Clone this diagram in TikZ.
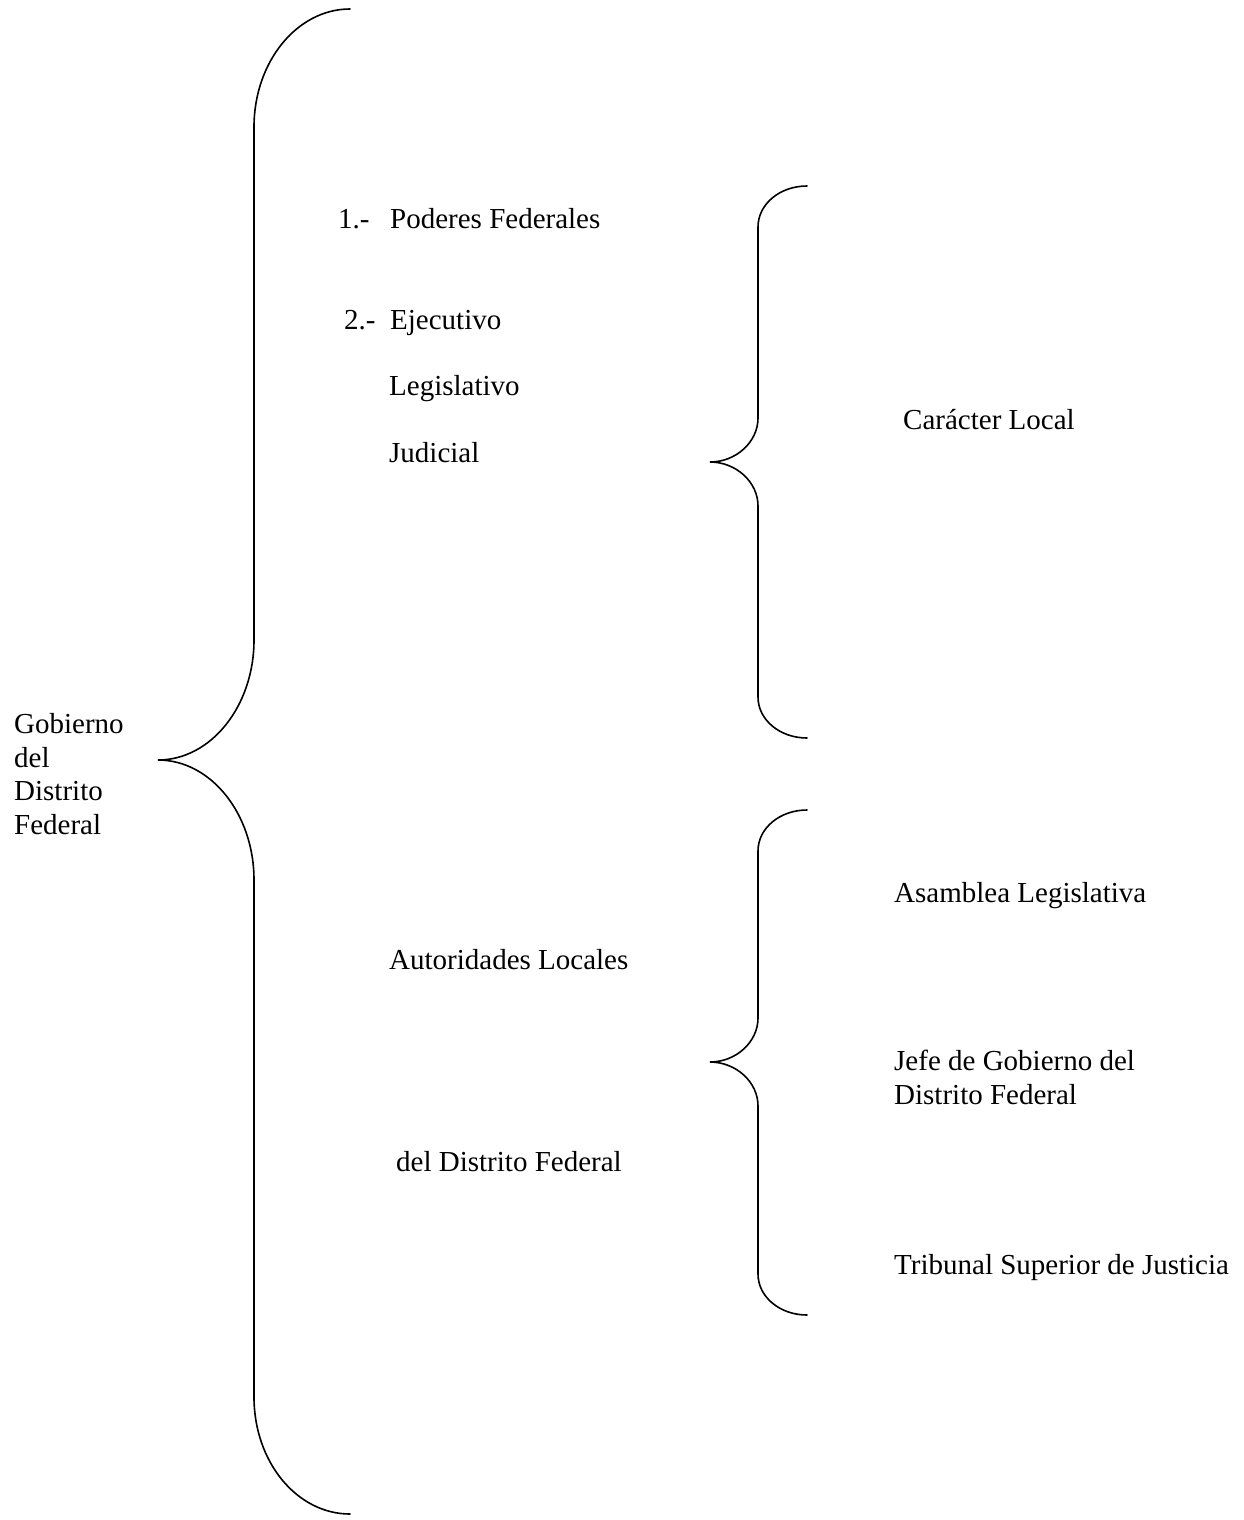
\documentclass[tikz,border=0pt]{standalone}
\usepackage{fontspec}
\setmainfont{Liberation Serif}
\usetikzlibrary{positioning}

\begin{document}
\begin{tikzpicture}[
    x=1pt, y=-1pt,
    llave/.style={line width=1.6pt, line cap=round},
    txt/.style={anchor=base west, inner sep=0pt, align=left, font=\fontsize{29}{33.4}\selectfont}
]
\useasboundingbox (0,0) rectangle (1244,1520);

% Brace points
\coordinate (g_top) at (350,9);
\coordinate (g_tip) at (158,760);
\coordinate (g_bot) at (350,1514);
\coordinate (a_top) at (807,186);
\coordinate (a_tip) at (710,462);
\coordinate (a_bot) at (807,738);
\coordinate (b_top) at (807,810);
\coordinate (b_tip) at (710,1062);
\coordinate (b_bot) at (807,1315);

% Main brace
\draw[llave] (g_top) .. controls +(-53,0) and +(0,-65) .. ++(-96,118) -- ++(0,513)
    .. controls +(0,66) and +(53,0) .. (g_tip)
    .. controls +(53,0) and +(0,-66) .. ++(96,120) -- ++(0,517)
    .. controls +(0,65) and +(-53,0) .. (g_bot);

% Upper brace
\draw[llave] (a_top) .. controls +(-27,0) and +(0,-23) .. ++(-49,41) -- ++(0,191)
    .. controls +(0,24) and +(26,0) .. (a_tip)
    .. controls +(26,0) and +(0,-24) .. ++(48,44) -- ++(0,191)
    .. controls +(0,23) and +(-27,0) .. (a_bot);

% Lower brace
\draw[llave] (b_top) .. controls +(-27,0) and +(0,-23) .. ++(-49,41) -- ++(0,167)
    .. controls +(0,24) and +(26,0) .. (b_tip)
    .. controls +(26,0) and +(0,-24) .. ++(48,44) -- ++(0,168)
    .. controls +(0,23) and +(-27,0) .. (b_bot);

% Left title (base = last line)
\node[txt] (gob) at (14,834) {Gobierno\\del\\Distrito\\Federal};

% Upper group
\node[txt] (num1) at (338,228) {1.-};
\node[txt] (poderes) at (390,228) {Poderes Federales};
\node[txt] (num2) at (344,329) {2.-};
\node[txt] (ejec) at (390,329) {Ejecutivo};
\node[txt] (legis) at (389,395) {Legislativo};
\node[txt] (judic) at (389,462) {Judicial};
\node[txt] (caracter) at (903,429) {Carácter Local};

% Lower group
\node[txt] (autor) at (389,969) {Autoridades Locales};
\node[txt] (autor2) at (396,1171) {del Distrito Federal};
\node[txt] (asamblea) at (894,902) {Asamblea Legislativa};
\node[txt] (jefe) at (894,1104) {Jefe de Gobierno del\\Distrito Federal};
\node[txt] (tribunal) at (894,1274) {Tribunal Superior de Justicia};

\end{tikzpicture}
\end{document}
